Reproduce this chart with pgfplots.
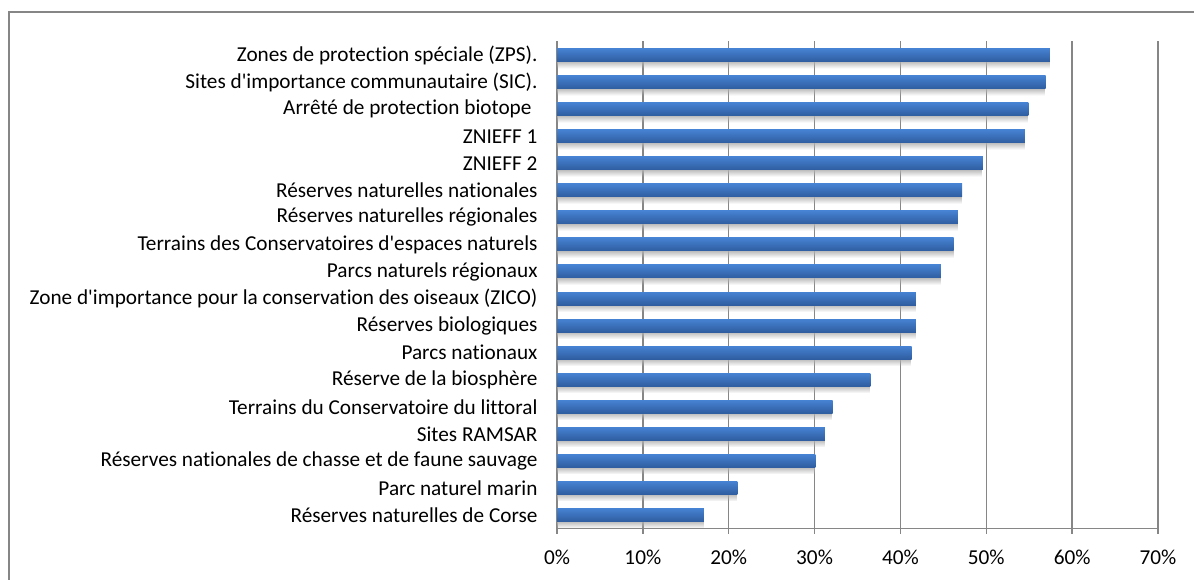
\documentclass[border=0pt]{standalone}
\usepackage{fontspec}
\setmainfont{Carlito}[Ligatures=NoCommon]
\usepackage{pgfplots}
\pgfplotsset{compat=1.18}
\usetikzlibrary{fadings}
\definecolor{bartop}{RGB}{70,130,210}
\definecolor{barbot}{RGB}{47,93,160}
\definecolor{gridgray}{RGB}{134,134,134}
\newcommand{\onebar}[2]{%
  \addplot[draw=none, fill=black!30, path fading=south, bar shift=-9.5pt, bar width=8pt] coordinates {(#1,#2)};
  \addplot[draw=none, top color=bartop, bottom color=barbot, bar shift=0pt] coordinates {(#1,#2)};
}
\newcommand{\q}{\textquotesingle}
\begin{document}
\begin{tikzpicture}[x=1pt,y=1pt,font=\fontsize{21.25}{25}\selectfont]
\useasboundingbox (0,0) rectangle (1194,579);
\draw[gridgray, line width=1.3pt] (9,-5) -- (9,567) -- (1200,567);
\begin{axis}[
  at={(557pt,50.5pt)}, anchor=south west,
  scale only axis, width=601pt, height=487pt,
  xbar, bar width=13pt,
  xmin=0, xmax=70, ymin=0.5, ymax=18.5,
  axis x line*=bottom, axis y line*=left,
  axis line style={gridgray, line width=1.3pt},
  xtick={0,10,...,70},
  xticklabels={0\%,10\%,20\%,30\%,40\%,50\%,60\%,70\%},
  xmajorgrids, grid style={gridgray, line width=1.3pt},
  tick align=outside, major tick length=5pt,
  tick style={gridgray, line width=1.3pt},
  ytick={1,...,18},
  ytick style={draw=none},
  extra y ticks={0.5,1.5,...,18.5},
  extra y tick labels={},
  extra y tick style={tick style={draw=gridgray, line width=1.3pt}, grid=none},
  yticklabels={
    {Réserves naturelles de Corse},
    {Parc naturel marin},
    {Réserves nationales de chasse et de faune sauvage},
    {Sites RAMSAR},
    {Terrains du Conservatoire du littoral},
    {Réserve de la biosphère},
    {Parcs nationaux},
    {Réserves biologiques},
    {Zone d\q importance pour la conservation des oiseaux (ZICO)},
    {Parcs naturels régionaux},
    {Terrains des Conservatoires d\q espaces naturels},
    {Réserves naturelles régionales},
    {Réserves naturelles nationales},
    {ZNIEFF 2},
    {ZNIEFF 1},
    {Arrêté de protection biotope\rule{6pt}{0pt}},
    {Sites d\q importance communautaire (SIC).},
    {Zones de protection spéciale (ZPS).}
  },
  tick label style={font=\fontsize{21.25}{25}\selectfont, text=black},
  yticklabel style={xshift=-11pt},
  xticklabel style={yshift=-13pt},
  clip=false,
]
\onebar{17.1}{1}
\onebar{21.0}{2}
\onebar{30.1}{3}
\onebar{31.2}{4}
\onebar{32.1}{5}
\onebar{36.5}{6}
\onebar{41.3}{7}
\onebar{41.8}{8}
\onebar{41.8}{9}
\onebar{44.7}{10}
\onebar{46.2}{11}
\onebar{46.7}{12}
\onebar{47.2}{13}
\onebar{49.6}{14}
\onebar{54.5}{15}
\onebar{54.9}{16}
\onebar{56.9}{17}
\onebar{57.4}{18}
\end{axis}
\end{tikzpicture}
\end{document}
